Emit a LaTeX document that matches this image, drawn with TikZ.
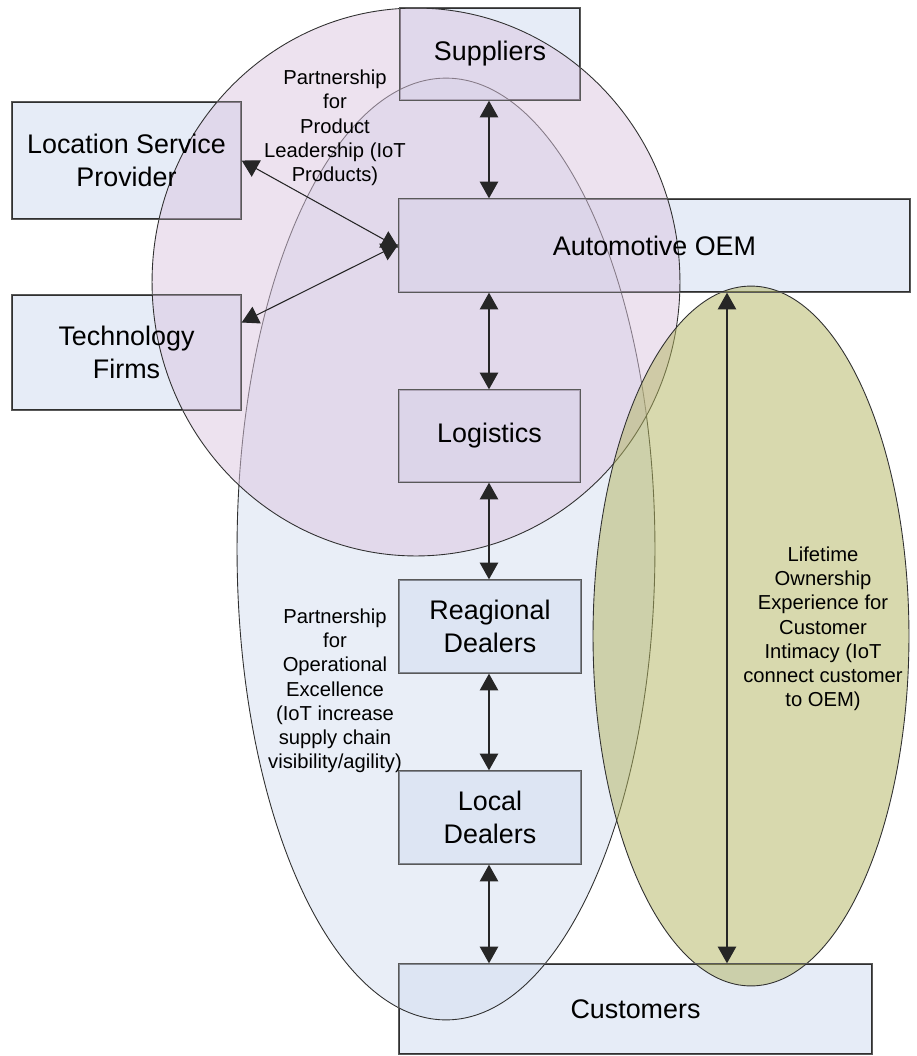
\documentclass[tikz,border=0pt]{standalone}
\usepackage{fontspec}
\setmainfont{Liberation Sans}
\usetikzlibrary{arrows.meta}
\definecolor{boxfill}{HTML}{E6ECF7}
\definecolor{pinkfill}{HTML}{DCC6E0}
\definecolor{bluefill}{HTML}{D5DFF1}
\definecolor{olivefill}{HTML}{B2B45E}
\definecolor{edge}{HTML}{303030}
\tikzset{
  unit/.style={draw=edge, line width=0.8pt, fill=boxfill, inner sep=0pt},
  frame/.style={draw=edge!80, line width=0.6pt},
  caption/.style={align=center, font=\fontsize{15.3}{18.5}\selectfont},
  note/.style={align=center, inner sep=0pt, font=\fontsize{11.5}{13.8}\selectfont},
  link/.style={line width=0.6pt, draw=black!85,
    {Triangle[length=9.5pt,width=10.5pt]}-{Triangle[length=9.5pt,width=10.5pt]}},
  zone/.style={draw=edge, line width=0.5pt, fill opacity=0.5},
}
\begin{document}
\begin{tikzpicture}[x=0.02cm, y=-0.02cm]
\useasboundingbox (0,0) rectangle (917,1056);
\fill[white] (0,0) rectangle (917,1056);

% boxes
\node[unit, minimum width=3.6cm, minimum height=1.84cm] (sup) at (490,54) {};
\node[unit, minimum width=4.58cm, minimum height=2.34cm] (lsp) at (126.5,160.5) {};
\node[unit, minimum width=4.58cm, minimum height=2.3cm] (tech) at (126.5,352.5) {};
\node[unit, minimum width=10.22cm, minimum height=1.86cm] (oem) at (654.5,245.5) {};
\node[unit, minimum width=3.62cm, minimum height=1.84cm] (logi) at (489.5,436) {};
\node[unit, minimum width=3.64cm, minimum height=1.86cm] (reg) at (490,626.5) {};
\node[unit, minimum width=3.64cm, minimum height=1.86cm] (loc) at (490,817.5) {};
\node[unit, minimum width=9.46cm, minimum height=1.8cm] (cust) at (635.5,1009) {};

% partnership zones
\draw[zone, fill=bluefill] (446,549) ellipse [x radius=4.18cm, y radius=9.42cm];
\draw[zone, fill=pinkfill] (416,282) ellipse [x radius=5.28cm, y radius=5.48cm];
\draw[zone, fill=olivefill] (751,636) ellipse [x radius=3.16cm, y radius=7.0cm];

% box outlines kept visible through the zones
\foreach \b in {sup,lsp,tech,oem,logi,reg,loc,cust}
  \draw[frame] (\b.north west) rectangle (\b.south east);

% box captions
\node[caption] at (sup) {Suppliers};
\node[caption] at (lsp) {Location Service\\Provider};
\node[caption] at (tech) {Technology\\Firms};
\node[caption] at (oem) {Automotive OEM};
\node[caption] at (logi) {Logistics};
\node[caption] at (reg) {Reagional\\Dealers};
\node[caption] at (loc) {Local\\Dealers};
\node[caption] at (cust) {Customers};

% zone captions
\node[note] (prodlbl) at (335,128) {Partnership\\for\\Product\\Leadership (IoT\\Products)};
\node[note] (oplbl) at (335,691) {Partnership\\for\\Operational\\Excellence\\(IoT increase\\supply chain\\visibility/agility)};
\node[note] (lifelbl) at (823,629) {Lifetime\\Ownership\\Experience for\\Customer\\Intimacy (IoT\\connect customer\\to OEM)};

% supply chain links
\coordinate (spine) at (489,0);
\draw[link] (spine |- sup.south) -- (spine |- oem.north);
\draw[link] (spine |- oem.south) -- (spine |- logi.north);
\draw[link] (spine |- logi.south) -- (spine |- reg.north);
\draw[link] (spine |- reg.south) -- (spine |- loc.north);
\draw[link] (spine |- loc.south) -- (spine |- cust.north);

% partner links
\draw[link] (lsp.east) -- ([yshift=-0.04cm]oem.west);
\draw[link] ([yshift=0.6cm]tech.east) -- ([yshift=0.02cm]oem.west);

% customer link
\coordinate (lifex) at (727,0);
\draw[link] (lifex |- oem.south) -- (lifex |- cust.north);
\end{tikzpicture}
\end{document}
